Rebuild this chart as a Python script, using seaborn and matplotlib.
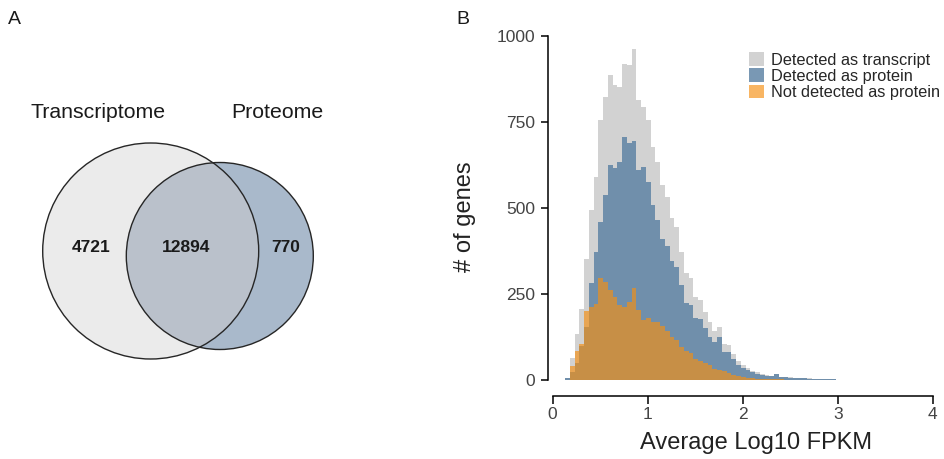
import numpy as np
import pandas as pd
import matplotlib
matplotlib.use("Agg")
import matplotlib.pyplot as plt
from matplotlib.patches import Circle, Patch
import seaborn as sns

# ---- Panel A: overlap of detected genes ----
set_names = ["Transcriptome", "Proteome"]
only_transcriptome = 4721
shared_genes = 12894
only_proteome = 770

# ---- Panel B: histogram of Average Log10 FPKM (bin width 0.05 from 0.13) ----
bin_start = 0.13
bin_width = 0.05
transcript_counts = [
    5, 63, 135, 205, 353, 494, 591, 755, 823, 886,
    857, 852, 920, 915, 962, 814, 794, 755, 678, 635,
    567, 533, 470, 445, 373, 310, 296, 242, 232, 198,
    170, 142, 155, 105, 102, 77, 56, 45, 35, 27,
    22, 18, 15, 13, 18, 10, 9, 8, 7, 7,
    6, 5, 4, 3, 3, 2, 2, 1, 1, 1,
    1, 1, 0, 1, 1, 1, 0, 0, 0, 1,
    1, 1, 0, 1, 1, 0, 0, 0, 0, 1,
]
protein_counts = [
    5, 23, 50, 100, 153, 281, 371, 459, 537, 624,
    615, 634, 707, 688, 696, 611, 620, 576, 510, 465,
    410, 390, 345, 329, 276, 225, 218, 180, 177, 150,
    125, 110, 125, 80, 82, 62, 45, 36, 28, 22,
    18, 14, 12, 11, 16, 8, 8, 7, 6, 6,
    5, 4, 4, 3, 2, 2, 2, 1, 1, 0,
    1, 1, 0, 1, 0, 1, 0, 0, 0, 0,
    0, 0, 0, 1, 0, 0, 0, 0, 0, 0,
]
not_protein_counts = [
    0, 40, 85, 105, 200, 213, 220, 296, 286, 262,
    242, 218, 213, 227, 266, 203, 174, 179, 168, 170,
    157, 143, 125, 116, 97, 85, 78, 62, 55, 48,
    45, 32, 30, 25, 20, 15, 11, 9, 7, 5,
    4, 4, 3, 2, 2, 2, 1, 1, 1, 1,
    1, 1, 0, 0, 1, 0, 0, 0, 0, 1,
    0, 0, 0, 0, 1, 0, 0, 0, 0, 1,
    1, 1, 0, 0, 1, 0, 0, 0, 0, 1,
]
series_labels = ["Detected as transcript", "Detected as protein", "Not detected as protein"]

n_bins = len(transcript_counts)
edges = (bin_start + bin_width * np.arange(n_bins + 1)).tolist()
centers = [e + bin_width / 2 for e in edges[:-1]]

hist_df = pd.concat([
    pd.DataFrame({"fpkm": centers, "count": counts, "group": label})
    for label, counts in zip(series_labels,
                             [transcript_counts, protein_counts, not_protein_counts])
], ignore_index=True)

sns.set_theme(style="ticks")
plt.rcParams["font.family"] = ["Liberation Sans", "DejaVu Sans"]

W, H = 944, 459
fig = plt.figure(figsize=(W / 100, H / 100), dpi=100)

# ---------------- Venn diagram ----------------
ax_v = fig.add_axes([0, 0, 472 / W, 1])
ax_v.set_xlim(0, 472)
ax_v.set_ylim(H, 0)
ax_v.axis("off")

c1_xy, c1_r = (150.7, 251.0), 108.0
c2_xy, c2_r = (219.8, 256.0), 93.5

ax_v.add_patch(Circle(c1_xy, c1_r, facecolor="#ebebeb", edgecolor="none"))
ax_v.add_patch(Circle(c2_xy, c2_r, facecolor="#a9b9cb", edgecolor="none"))
clip_circle = Circle(c1_xy, c1_r, transform=ax_v.transData)
overlap = Circle(c2_xy, c2_r, facecolor="#bac1cb", edgecolor="none")
ax_v.add_patch(overlap)
overlap.set_clip_path(clip_circle)
for xy, r in [(c1_xy, c1_r), (c2_xy, c2_r)]:
    ax_v.add_patch(Circle(xy, r, fill=False, edgecolor="#262626", linewidth=1.0))

ax_v.text(98, 112, set_names[0], ha="center", va="center", fontsize=15.3, color="#1a1a1a")
ax_v.text(277.5, 112, set_names[1], ha="center", va="center", fontsize=15.3, color="#1a1a1a")
num_style = dict(ha="center", va="center", fontsize=12.5, fontweight="bold", color="#1a1a1a")
ax_v.text(91, 248, f"{only_transcriptome}", **num_style)
ax_v.text(186, 248, f"{shared_genes}", **num_style)
ax_v.text(286, 248, f"{only_proteome}", **num_style)

fig.text(8 / W, 1 - 20 / H, "A", ha="left", va="center", fontsize=14, color="#1a1a1a")
fig.text(456 / W, 1 - 20 / H, "B", ha="left", va="center", fontsize=14, color="#1a1a1a")

# ---------------- Histogram ----------------
ax_top_px, ax_bot_px = 29.0, 396.0
ax_left_px, ax_right_px = 548.0, 944.0
ax = fig.add_axes([ax_left_px / W, (H - ax_bot_px) / H,
                   (ax_right_px - ax_left_px) / W, (ax_bot_px - ax_top_px) / H])

styles = {
    "Detected as transcript": ("#d2d2d2", 1.0),
    "Detected as protein": ("#587ea2", 0.8),
    "Not detected as protein": ("#f58f12", 0.66),
}
for label in series_labels:
    color, alpha = styles[label]
    sub = hist_df[hist_df["group"] == label]
    sns.histplot(data=sub, x="fpkm", weights="count", bins=edges,
                 element="step", fill=True, color=color, alpha=alpha,
                 linewidth=0, ax=ax)

ax.set_xlim(-0.049, 4.119)
ax.set_ylim(-46.5, 1020.3)
ax.set_xticks([0, 1, 2, 3, 4])
ax.set_yticks([0, 250, 500, 750, 1000])
sns.despine(ax=ax)
ax.spines["left"].set_bounds(0, 1000)
ax.spines["bottom"].set_bounds(0, 4)
for s in ["left", "bottom"]:
    ax.spines[s].set_color("black")
    ax.spines[s].set_linewidth(1.1)
ax.tick_params(axis="both", length=5.4, width=1.1, color="black",
               labelsize=12.5, labelcolor="#444444")
ax.tick_params(axis="y", pad=3.8)
ax.tick_params(axis="x", pad=2.5)

ax.set_xlabel("Average Log10 FPKM", fontsize=17, color="#222222")
ax.set_ylabel("# of genes", fontsize=17, color="#222222")
ax.xaxis.set_label_coords((756 - ax_left_px) / (ax_right_px - ax_left_px),
                          -(443 - ax_bot_px) / (ax_bot_px - ax_top_px))
ax.xaxis.label.set_va("center")
ax.yaxis.set_label_coords(-(ax_left_px - 465) / (ax_right_px - ax_left_px),
                          (ax_bot_px - 216.5) / (ax_bot_px - ax_top_px))
ax.yaxis.label.set_va("center")

handles = [Patch(facecolor=styles[l][0], alpha=styles[l][1], edgecolor="none")
           for l in series_labels]
fig.legend(handles, series_labels, loc="upper left",
           bbox_to_anchor=(741 / W, 1 - 44 / H), frameon=False,
           fontsize=11.8, handlelength=0.9, handleheight=0.9,
           handletextpad=0.45, labelspacing=0.05, borderpad=0,
           labelcolor="#262626")

fig.savefig("out.png", dpi=100)
